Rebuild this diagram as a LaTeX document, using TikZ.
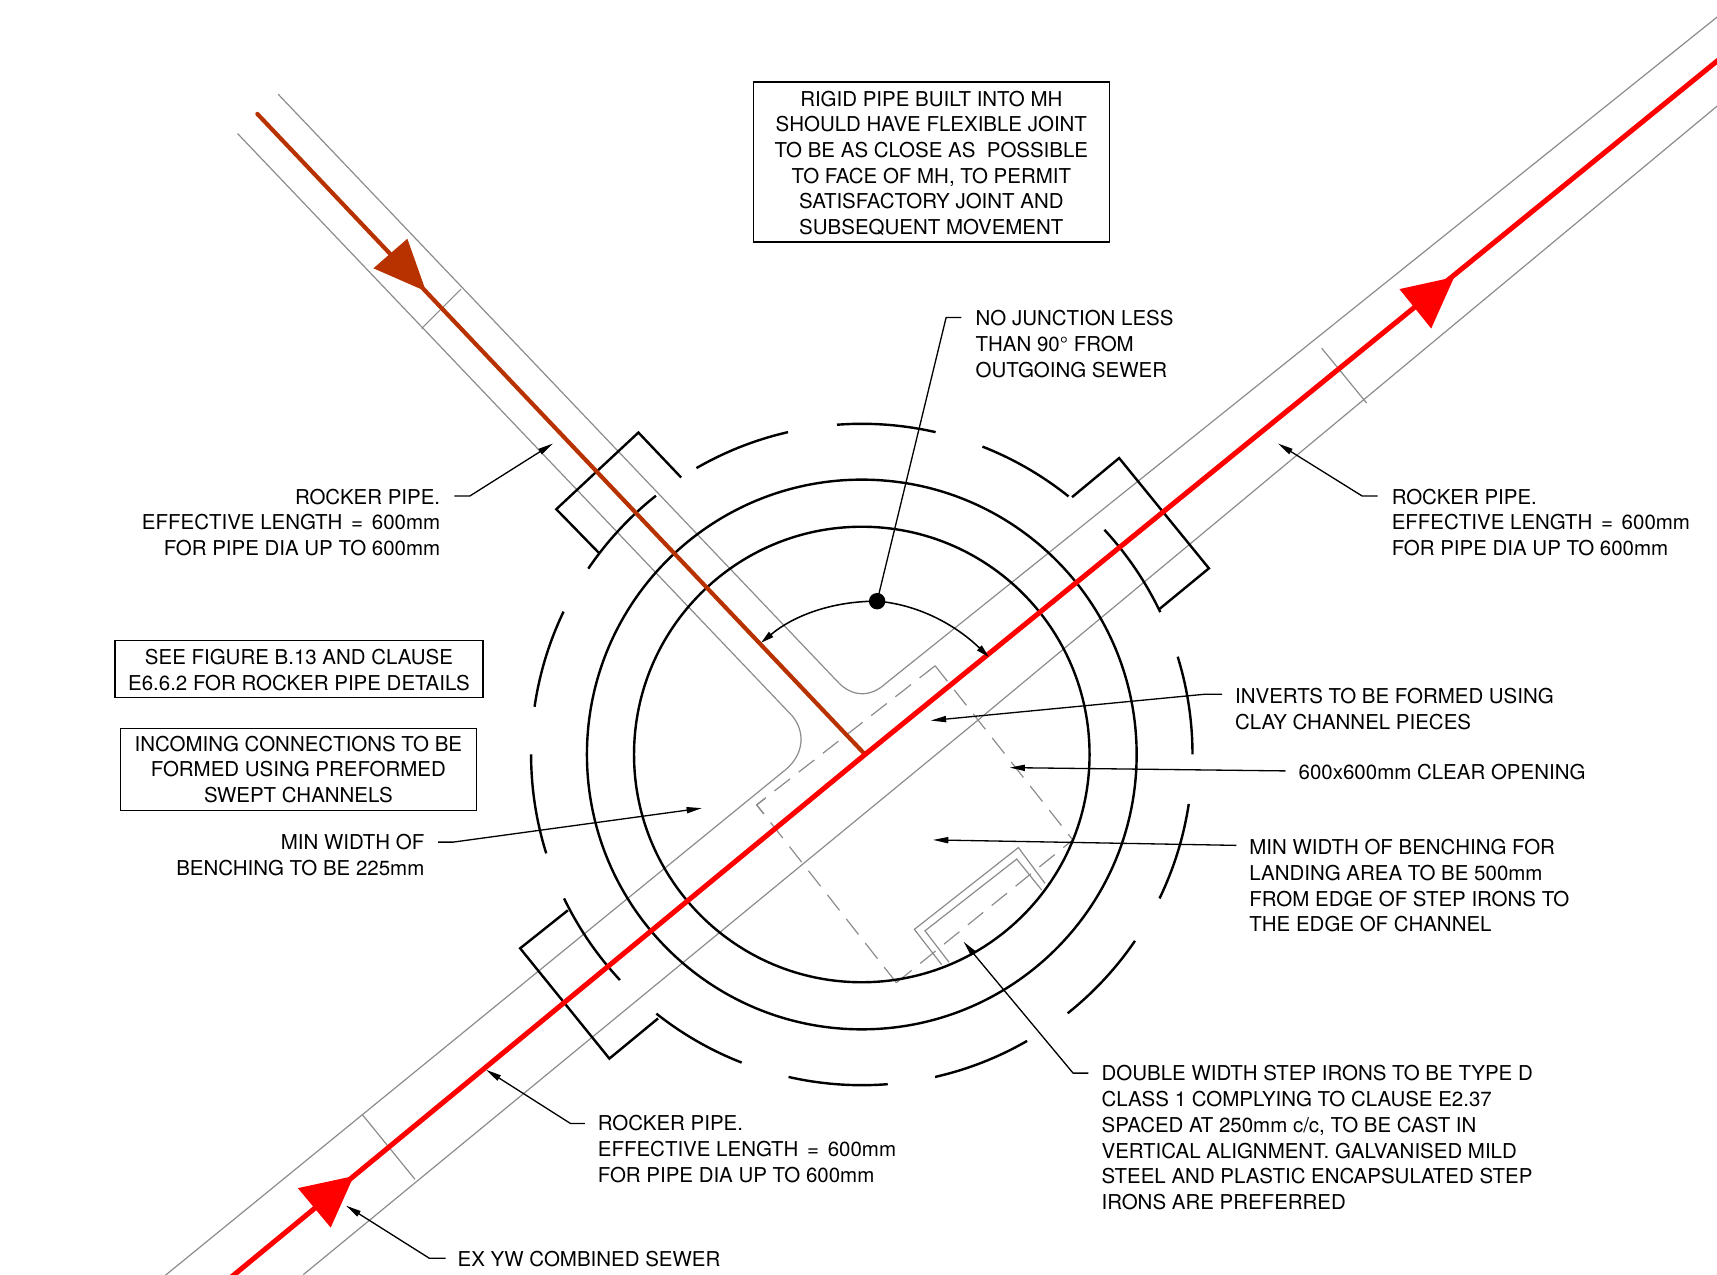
\documentclass[tikz,border=0pt]{standalone}
\usepackage{fontspec}
\setmainfont{TeX Gyre Heros}
\usetikzlibrary{arrows.meta}
\definecolor{pipegrey}{HTML}{8C8C8C}
\definecolor{sewerred}{HTML}{FE0000}
\definecolor{sewerbrown}{HTML}{B83200}
\newcommand{\eqsign}{\kern1.4pt=\kern1.4pt}
\newcommand{\boxstrut}{\rule{0pt}{8.1pt}}
\tikzset{
  thinpipe/.style={draw=pipegrey,line width=0.55pt},
  wall/.style={draw=black,line width=1.1pt},
  openingdash/.style={draw=pipegrey,line width=0.55pt,dash pattern=on 9pt off 5pt},
  leaderline/.style={draw=black,line width=0.6pt},
  leader/.style={leaderline,-{Stealth[length=7pt,width=2.8pt,inset=0pt]}},
  tick/.style={draw=pipegrey,line width=0.55pt},
  textfont/.style={font=\fontsize{9.35}{11.75}\selectfont},
  label/.style={inner sep=0pt,outer sep=0pt,textfont},
  lefttext/.style={label,anchor=west,align=left},
  righttext/.style={label,anchor=east,align=right},
  notebox/.style={draw=black,line width=0.6pt,inner sep=0pt,outer sep=0pt,anchor=north west,align=center,textfont}
}
\begin{document}
\begin{tikzpicture}[x=0.5pt,y=-0.5pt]
\useasboundingbox (0,0) rectangle (1568,1164);
\clip (0,0) rectangle (1568,1164);
\coordinate (c) at (787,689);

% pipe outlines
\draw[thinpipe] (140,1173.6) -- (717.5,702.8) .. controls (735,688) and (735,668) .. (723.7,654) -- (217,122);
\draw[thinpipe] (254,86) -- (764.4,622) .. controls (778,637) and (795,637) .. (809,624) -- (1580,6);
\draw[thinpipe] (277,1164) -- (889,661) -- (1580,87);
\draw[tick] (385,300) -- (421,264);
\draw[tick] (1207,318) -- (1248,368);
\draw[tick] (331,1018) -- (379,1077);

% clear opening and step irons
\draw[openingdash] (854,608) -- (691,735);
\draw[openingdash] (854,608) -- (979.7,767);
\draw[openingdash] (818.6,897.4) -- (979.7,767);
\draw[openingdash] (818.6,897.4) -- (691,735);
\draw[thinpipe] (699,728.8) -- (691,735) -- (697.5,743.3);
\draw[thinpipe] (860,881) -- (835,848.7) -- (930,774) -- (954.3,806.7);
\draw[thinpipe] (866.7,878.8) -- (844.7,850) -- (928.5,784.5) -- (951.3,812.8);

% chamber walls
\draw[wall] (c) circle[radius=104pt];
\draw[wall] (c) circle[radius=125.5pt];
\begin{scope}[shift={(c)}]
\foreach \a/\b in {120/102.9,94.3/77.1,68.6/51.3,17.2/0,-8.6/-25.8,-34.3/-51.5,-60/-77.2,-85.5/-102.8,-111.3/-128.4,197.4/180,171.7/154.4,145.8/128.5,42.8/25.5,205.8/223}
  \draw[wall] (\a:151pt) arc[start angle=\a,end angle=\b,radius=151pt];
\end{scope}
% collars
\draw[wall] (622,436) -- (583,395) -- (508,465) -- (547,505);
\draw[wall] (979,454) -- (1022,418.3) -- (1104,519) -- (1059,556);
\draw[wall] (518.6,831.3) -- (475,866) -- (556.5,966.7) -- (601,930);

% sewers
\draw[sewerbrown,line width=1.9pt,line cap=round] (235,104) -- (790,689);
\draw[sewerred,line width=2.3pt] (790,689) -- (1580,46);
\draw[sewerred,line width=2.3pt] (790,689) -- (203,1173);
\fill[sewerbrown] (372,218) -- (341,245) -- (389,266) -- cycle;
\fill[sewerred] (1328,253) -- (1278,264) -- (1307,300) -- cycle;
\fill[sewerred] (323,1074) -- (272,1085) -- (302,1121) -- cycle;

% angle
\node[circle,fill=black,inner sep=0pt,minimum size=7.5pt] (dot) at (801,549) {};
\draw[draw=black,line width=0.7pt,-{Stealth[length=6pt,width=3pt,inset=0pt]}] (dot.center) .. controls (760,549) and (725,562) .. (695,587);
\draw[draw=black,line width=0.7pt,-{Stealth[length=6pt,width=3pt,inset=0pt]}] (dot.center) .. controls (838,552) and (872,570) .. (903,600);

% boxes
\node[notebox,minimum width=162.5pt,minimum height=73pt] (box1) at (688,75) {\boxstrut RIGID PIPE BUILT INTO MH\\SHOULD HAVE FLEXIBLE JOINT\\TO BE AS CLOSE AS\ \ POSSIBLE\\TO FACE OF MH, TO PERMIT\\SATISFACTORY JOINT AND\\SUBSEQUENT MOVEMENT};
\node[notebox,minimum width=168pt,minimum height=26pt] (box2) at (105,585) {\boxstrut SEE FIGURE B.13 AND CLAUSE\\E6.6.2 FOR ROCKER PIPE DETAILS};
\node[notebox,minimum width=162.5pt,minimum height=37.5pt] (box3) at (110,665) {INCOMING CONNECTIONS TO BE\\FORMED USING PREFORMED\\SWEPT CHANNELS};

% labels
\node[righttext] (rockerL) at (402,477) {ROCKER PIPE.\\EFFECTIVE LENGTH \eqsign{} 600mm\\FOR PIPE DIA UP TO 600mm};
\node[lefttext] (rockerR) at (1271,477) {ROCKER PIPE.\\EFFECTIVE LENGTH \eqsign{} 600mm\\FOR PIPE DIA UP TO 600mm};
\node[lefttext] (rockerB) at (546,1049.5) {ROCKER PIPE.\\EFFECTIVE LENGTH \eqsign{} 600mm\\FOR PIPE DIA UP TO 600mm};
\node[lefttext] (sewer) at (418,1149.5) {EX YW COMBINED SEWER};
\node[lefttext] (junction) at (891,314) {NO JUNCTION LESS\\THAN 90° FROM\\OUTGOING SEWER};
\node[lefttext] (inverts) at (1128,647.5) {INVERTS TO BE FORMED USING\\CLAY CHANNEL PIECES};
\node[lefttext] (opening) at (1186,705) {600x600mm CLEAR OPENING};
\node[righttext] (benchL) at (387.5,781) {MIN WIDTH OF\\BENCHING TO BE 225mm};
\node[lefttext] (benchR) at (1141,809) {MIN WIDTH OF BENCHING FOR\\LANDING AREA TO BE 500mm\\FROM EDGE OF STEP IRONS TO\\THE EDGE OF CHANNEL};
\node[lefttext] (irons) at (1006,1039) {DOUBLE WIDTH STEP IRONS TO BE TYPE D\\CLASS 1 COMPLYING TO CLAUSE E2.37\\SPACED AT 250mm c/c, TO BE CAST IN\\VERTICAL ALIGNMENT. GALVANISED MILD\\STEEL AND PLASTIC ENCAPSULATED STEP\\IRONS ARE PREFERRED};

% leaders
\coordinate (tRockerL) at (505,405);
\coordinate (tRockerR) at (1167,405);
\coordinate (tRockerB) at (444,977);
\coordinate (tSewer) at (316,1101);
\coordinate (tInverts) at (850,658);
\coordinate (tOpening) at (922,701);
\coordinate (tBenchL) at (641,738);
\coordinate (tBenchR) at (852,767);
\coordinate (tIrons) at (880,860);
\draw[leader] (415,453) -- (429,453) -- (tRockerL);
\draw[leader] (1258,453) -- (1244,453) -- (tRockerR);
\draw[leader] (534,1026) -- (521,1026) -- (tRockerB);
\draw[leader] (407,1149) -- (392,1149) -- (tSewer);
\draw[leaderline] (878,290) -- (864,290) -- (dot.center);
\draw[leader] (1116,634) -- (1100,634) -- (tInverts);
\draw[leader] (1174,704) -- (tOpening);
\draw[leader] (400,769) -- (414,769) -- (tBenchL);
\draw[leader] (1129,772) -- (tBenchR);
\draw[leader] (994,980) -- (980,980) -- (tIrons);
\end{tikzpicture}
\end{document}
